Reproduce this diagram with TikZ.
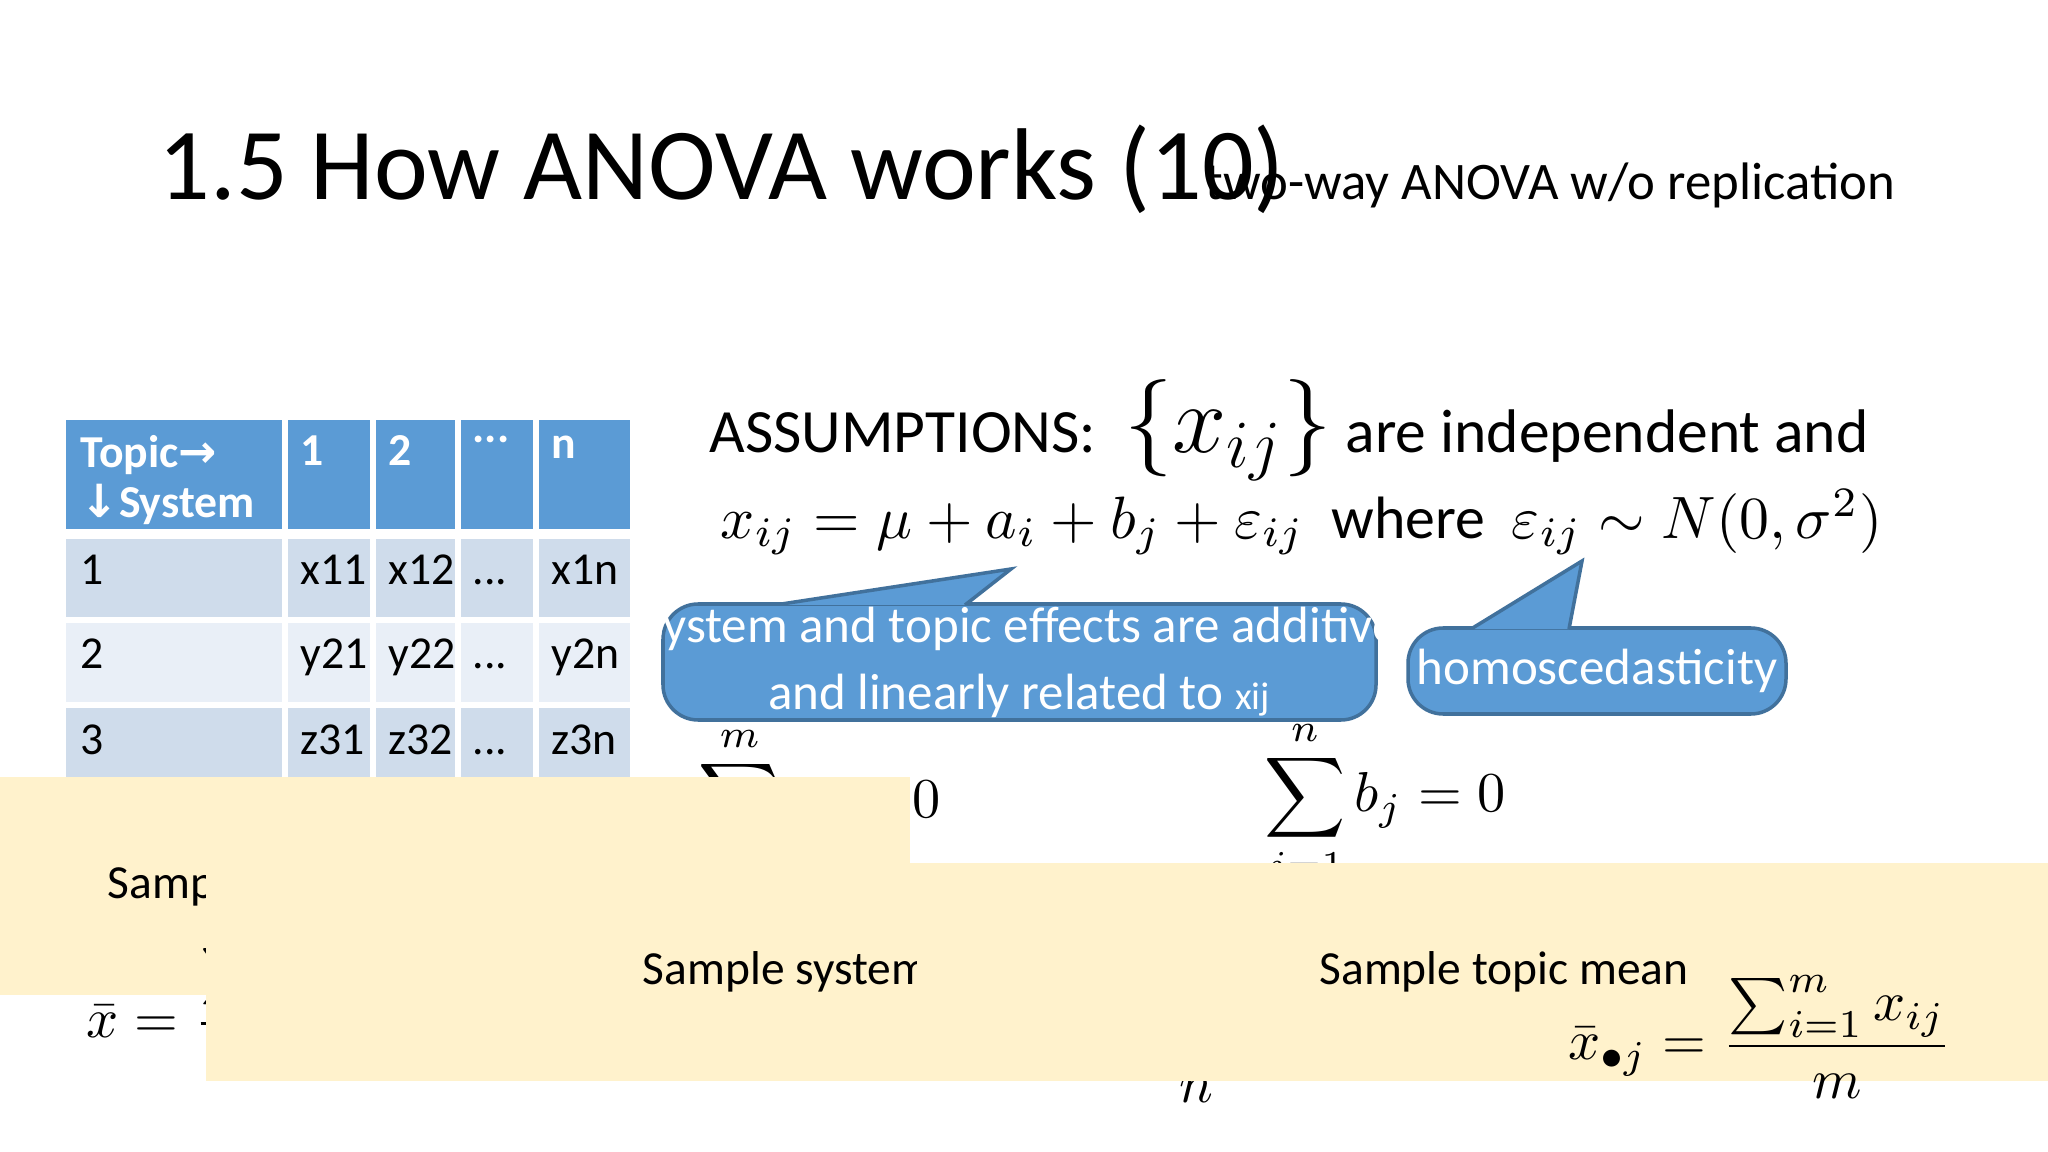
\documentclass[tikz,border=0pt]{standalone}
\usepackage{amsmath}
\usepackage{graphicx}
\usepackage{fontspec}
\setmainfont{Carlito}
\newfontfamily\arrowfont{DejaVu Sans}
\definecolor{hdr}{HTML}{5B9BD5}
\definecolor{rowa}{HTML}{CFDCEB}
\definecolor{rowb}{HTML}{E9EFF7}
\definecolor{callbd}{HTML}{41719C}
\definecolor{yel}{HTML}{FFF2CC}
\newcommand{\scmath}[2]{\scalebox{#1}{$#2$}}
\tikzset{
  hcell/.style={anchor=north west,text=white,font=\fontsize{13}{16}\selectfont\bfseries,inner sep=0pt,align=left},
  bcell/.style={anchor=base west,font=\fontsize{13}{16}\selectfont,inner sep=0pt},
  callout/.style={fill=hdr,draw=callbd,line width=1pt},
  calltext/.style={text=white,font=\fontsize{14.5}{19}\selectfont,align=center},
  ybox/.style={fill=yel,draw=none,font=\fontsize{13.5}{16}\selectfont,inner sep=0pt},
  mathnode/.style={inner sep=0pt}
}
\begin{document}
\begin{tikzpicture}[x=0.01cm,y=-0.01cm]
\useasboundingbox[fill=white] (0,0) rectangle (2048,1152);
% title
\node[anchor=base west,inner sep=0pt,font=\fontsize{29}{34}\selectfont] (title) at (158,200) {1.5 How ANOVA works (10)};
\node[anchor=base west,inner sep=0pt,font=\fontsize{15}{18}\selectfont] (sub) at (1205,200) {two-way ANOVA w/o replication};
% table
\fill[hdr] (66,420) rectangle (630,534);
\fill[rowa] (66,534) rectangle (630,620);
\fill[rowb] (66,620) rectangle (630,705);
\fill[rowa] (66,705) rectangle (630,788);
\foreach \x in {285,373,458,536} \draw[white,line width=1.5pt] (\x,420) -- (\x,788);
\foreach \y in {534,620,705} \draw[white,line width=1.5pt] (66,\y) -- (630,\y);
\draw[white,line width=3pt] (66,534) -- (630,534);
\node[hcell] (h0) at (80,435) {Topic{\arrowfont\bfseries →}\\[-2pt]{\arrowfont\bfseries ↓}System};
\node[hcell] (h1) at (300,435) {1};
\node[hcell] (h2) at (388,435) {2};
\node[hcell] (h3) at (472,435) {...};
\node[hcell] (h4) at (551,435) {n};
\node[bcell] (r1) at (80,584) {1};
\node[bcell] (a1) at (300,584) {x11};
\node[bcell] (a2) at (388,584) {x12};
\node[bcell] (a3) at (472,584) {...};
\node[bcell] (a4) at (551,584) {x1n};
\node[bcell] (r2) at (80,669) {2};
\node[bcell] (b1) at (300,669) {y21};
\node[bcell] (b2) at (388,669) {y22};
\node[bcell] (b3) at (472,669) {...};
\node[bcell] (b4) at (551,669) {y2n};
\node[bcell] (r3) at (80,754) {3};
\node[bcell] (c1) at (300,754) {z31};
\node[bcell] (c2) at (388,754) {z32};
\node[bcell] (c3) at (472,754) {...};
\node[bcell] (c4) at (551,754) {z3n};
% assumptions
\node[anchor=base west,inner sep=0pt,font=\fontsize{17.5}{21}\selectfont] (assum) at (709,453) {ASSUMPTIONS:\ \ \scmath{1.6}{\{x_{ij}\}} are independent and};
\node[anchor=base west,inner sep=0pt] (model) at (720,538) {\scmath{1.7}{x_{ij}=\mu+a_i+b_j+\varepsilon_{ij}\ \ \text{where}\ \ \varepsilon_{ij}\sim N(0,\sigma^2)}};
% callouts
\draw[callout,rounded corners=10pt] (663,604) rectangle (1376,720);
\filldraw[callout] (775,605) -- (1011,569) -- (965,605);
\fill[hdr] (770,606) rectangle (975,615);
\node[calltext] (ct1) at (1019,662) {System and topic effects are additive\\and linearly related to {\fontsize{11}{13}\selectfont xij}};
\draw[callout,rounded corners=10pt] (1408,628) rectangle (1786,714);
\filldraw[callout] (1471,629) -- (1582,561) -- (1569,629);
\fill[hdr] (1466,630) rectangle (1574,639);
\node[calltext] (ct2) at (1597,671) {homoscedasticity};
% sums
\node[mathnode] (suma) at (820,807) {\scmath{1.6}{\displaystyle\sum_{i=1}^{m} a_i = 0}};
\node[mathnode] (sumb) at (1385,805) {\scmath{1.6}{\displaystyle\sum_{j=1}^{n} b_j = 0}};
% means
\node[ybox,minimum width=347,minimum height=62] (gm) at (299.5,886) {Sample grand mean};
\node[mathnode] (fgm) at (330,1011) {\scmath{1.6}{\bar{x}=\dfrac{\sum_{i=1}^{m}\sum_{j=1}^{n}x_{ij}}{mn}}};
\node[ybox,minimum width=364,minimum height=62] (sm) at (846,972) {Sample system mean};
\node[mathnode] (fsm) at (1122,1037) {\scmath{1.6}{\bar{x}_{i\bullet}=\dfrac{\sum_{j=1}^{n}x_{ij}}{n}}};
\node[ybox,minimum width=334,minimum height=62] (tm) at (1504,972) {Sample topic mean};
\node[mathnode] (ftm) at (1760,1037) {\scmath{1.6}{\bar{x}_{\bullet j}=\dfrac{\sum_{i=1}^{m}x_{ij}}{m}}};
\end{tikzpicture}
\end{document}
